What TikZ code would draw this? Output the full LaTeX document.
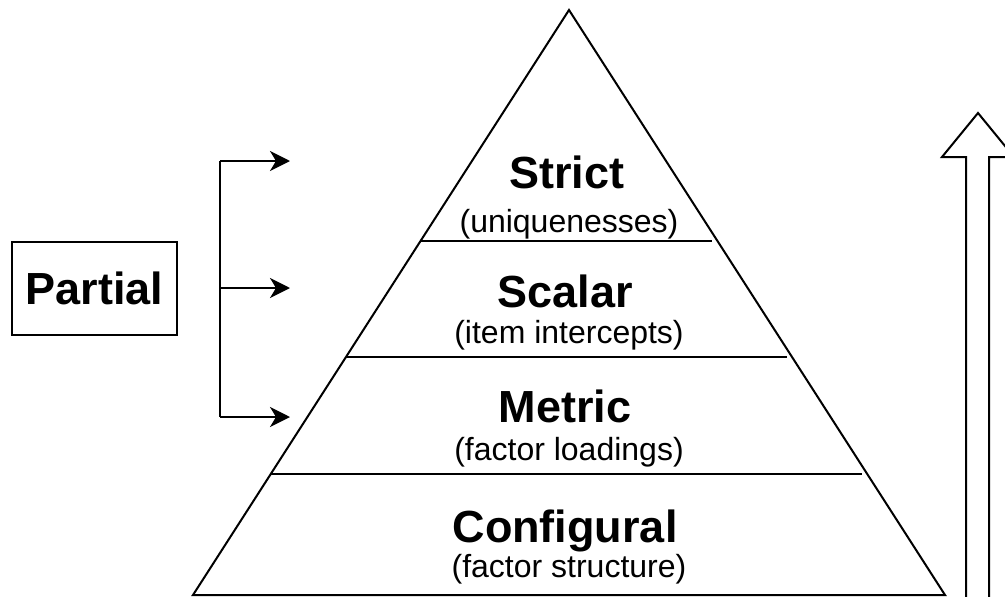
\documentclass[tikz,border=0pt]{standalone}
\usepackage{fontspec}
\setmainfont{Liberation Sans}
\usetikzlibrary{arrows.meta,calc}

\tikzset{
  stroke/.style={line width=2pt, line join=miter},
  level/.style={anchor=base, inner sep=0pt, font=\fontsize{45}{54}\selectfont\bfseries},
  detail/.style={anchor=base, inner sep=0pt, font=\fontsize{32}{38}\selectfont},
  feed/.style={stroke, -{Stealth[length=20pt, width=20pt, inset=6pt]}},
}

\begin{document}
\begin{tikzpicture}[x=1pt, y=-1pt]
  \useasboundingbox (0,0) rectangle (1005,597);
  \clip (0,0) rectangle (1005,597);

  % pyramid outline
  \coordinate (apex) at (569,10);
  \coordinate (bl) at (193,595);
  \coordinate (br) at (945,595);
  \draw[stroke] (apex) -- (bl) -- (br) -- cycle;

  % dividing lines between the levels
  \draw[stroke] ($(apex)!0.3949!(bl)$) -- ($(apex)!0.3949!(br) + (-5,0)$);
  \draw[stroke] ($(apex)!0.5932!(bl)$) -- ($(apex)!0.5932!(br) + (-5,0)$);
  \draw[stroke] ($(apex)!0.7932!(bl)$) -- ($(apex)!0.7932!(br) + (-5,0)$);

  % level labels
  \node[level]  (strict)    at (567,188) {Strict};
  \node[detail] (strictd)   at (569,232) {(uniquenesses)};
  \node[level]  (scalar)    at (565,307) {Scalar};
  \node[detail] (scalard)   at (569,343) {(item intercepts)};
  \node[level]  (metric)    at (565,422) {Metric};
  \node[detail] (metricd)   at (569,460) {(factor loadings)};
  \node[level]  (config)    at (565,542) {Configural};
  \node[detail] (configd)   at (569,577) {(factor structure)};

  % partial invariance box and bracket
  \node[stroke, draw, minimum width=165pt, minimum height=93pt, inner sep=0pt,
        font=\fontsize{45}{54}\selectfont\bfseries] (partial) at (94.5,288.5) {Partial};
  \coordinate (btop) at (220,161);
  \coordinate (bmid) at (220,288);
  \coordinate (bbot) at (220,417);
  \coordinate (ttop) at (290,161);
  \coordinate (tmid) at (290,288);
  \coordinate (tbot) at (290,417);
  \draw[stroke] (btop) -- (bbot);
  \draw[feed] (btop) -- (ttop);
  \draw[feed] (bmid) -- (tmid);
  \draw[feed] (bbot) -- (tbot);

  % hollow upward arrow on the right
  \draw[stroke] (978,113) -- (942,157) -- (966,157) -- (966,620)
    -- (989,620) -- (989,157) -- (1014,157) -- cycle;
\end{tikzpicture}
\end{document}
